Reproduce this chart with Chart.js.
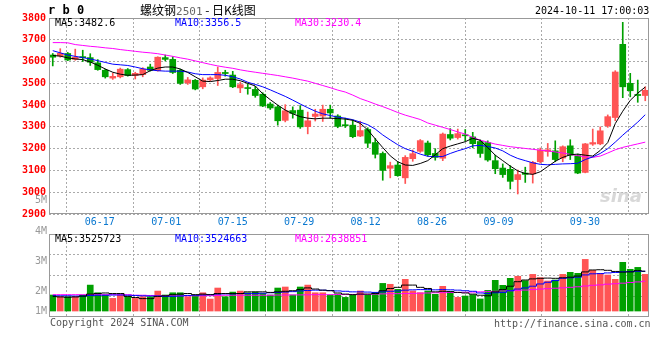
<!DOCTYPE html>
<html>
<head>
<meta charset="utf-8">
<script src="https://cdn.jsdelivr.net/npm/chart.js@4.4.1/dist/chart.umd.min.js"></script>
<style>
  body { margin: 0; background: #fff; }
  #wrap { position: relative; width: 660px; height: 360px; overflow: hidden; background: #fff; font-family: "DejaVu Sans Mono", monospace; }
  canvas { position: absolute; left: 0; }
  .t { position: absolute; white-space: pre; font-size: 10px; line-height: 12px; }
</style>
</head>
<body>
<div id="wrap">
  <canvas id="kChart" width="660" height="232" style="top:0"></canvas>
  <canvas id="volChart" width="660" height="92" style="top:226px"></canvas>

  <div class="t" style="left:48px;top:3px;font-weight:bold;font-size:12px;line-height:14px">r b 0</div>
  <div class="t" style="left:140px;top:3px;font-family:'Noto Sans CJK SC';font-size:12px;line-height:14px">螺纹钢<span style="color:#666;font-family:'DejaVu Sans Mono';font-size:11px">2501</span> - 日K线图</div>
  <div class="t" style="left:535px;top:5px">2024-10-11 17:00:03</div>

  <div class="t" style="left:55px;top:17px;color:#000">MA5:3482.6</div>
  <div class="t" style="left:175px;top:17px;color:#00f">MA10:3356.5</div>
  <div class="t" style="left:295px;top:17px;color:#f0f">MA30:3230.4</div>

  <div class="t" style="left:55px;top:233px;color:#000">MA5:3525723</div>
  <div class="t" style="left:175px;top:233px;color:#00f">MA10:3524663</div>
  <div class="t" style="left:295px;top:233px;color:#f0f">MA30:2638851</div>

  <div class="t" style="left:35px;top:194px;color:#999">5M</div>
  <div class="t" style="left:35px;top:225px;color:#999">4M</div>
  <div class="t" style="left:35px;top:255px;color:#999">3M</div>
  <div class="t" style="left:35px;top:285px;color:#999">2M</div>
  <div class="t" style="left:35px;top:305px;color:#999">1M</div>

  <div class="t" style="left:600px;top:186px;font-family:'DejaVu Sans';font-style:italic;font-weight:bold;font-size:18px;line-height:20px;color:rgba(200,200,200,0.7)">sina</div>

  <div class="t" style="left:50px;top:317px;color:#555">Copyright 2024 SINA.COM</div>
  <div class="t" style="left:494px;top:318px;color:#555">http://finance.sina.com.cn</div>
</div>

<script>
const dates = ['06-13','06-14','06-17','06-18','06-19','06-20','06-21','06-24','06-25','06-26',
  '06-27','06-28','07-01','07-02','07-03','07-04','07-05','07-08','07-09','07-10',
  '07-11','07-12','07-15','07-16','07-17','07-18','07-19','07-22','07-23','07-24',
  '07-25','07-26','07-29','07-30','07-31','08-01','08-02','08-05','08-06','08-07',
  '08-08','08-09','08-12','08-13','08-14','08-15','08-16','08-19','08-20','08-21',
  '08-22','08-23','08-26','08-27','08-28','08-29','08-30','09-02','09-03','09-04',
  '09-05','09-06','09-09','09-10','09-11','09-12','09-13','09-18','09-19','09-20',
  '09-23','09-24','09-25','09-26','09-27','09-30','10-08','10-09','10-10','10-11'];

// dates that get a label and a grid line
const labelIdx = [2, 12, 22, 32, 42, 52, 62, 75];

const openP = [3630,3626,3637,3610,3622,3618,3594,3560,3524,3530,
  3563,3536,3540,3575,3558,3618,3610,3560,3502,3514,
  3484,3516,3522,3550,3538,3479,3480,3472,3450,3405,
  3392,3330,3375,3377,3301,3348,3350,3381,3350,3310,
  3308,3258,3288,3228,3178,3110,3125,3066,3154,3188,
  3226,3178,3156,3265,3251,3263,3254,3233,3228,3145,
  3111,3105,3058,3088,3084,3140,3187,3190,3157,3213,
  3168,3091,3221,3222,3305,3343,3679,3500,3449,3444];
const highP = [3637,3659,3642,3657,3652,3636,3609,3565,3548,3570,
  3568,3551,3572,3588,3622,3630,3622,3565,3527,3518,
  3525,3530,3575,3560,3555,3505,3498,3486,3457,3412,
  3400,3402,3392,3398,3368,3381,3400,3400,3356,3340,
  3332,3326,3296,3247,3185,3138,3140,3168,3194,3242,
  3235,3200,3272,3292,3290,3288,3275,3241,3236,3170,
  3130,3122,3102,3115,3142,3203,3224,3236,3213,3241,
  3175,3224,3290,3300,3355,3558,3780,3546,3515,3484];
const lowP = [3580,3620,3604,3606,3600,3582,3560,3524,3518,3525,
  3533,3520,3530,3556,3556,3603,3545,3495,3495,3470,
  3475,3512,3490,3533,3480,3457,3450,3436,3393,3380,
  3308,3323,3340,3293,3268,3327,3325,3340,3296,3297,
  3250,3255,3205,3157,3055,3066,3073,3040,3142,3183,
  3165,3147,3145,3240,3244,3235,3204,3160,3142,3085,
  3068,3015,2992,3045,3042,3134,3165,3140,3140,3150,
  3085,3089,3215,3218,3298,3328,3434,3438,3413,3420];
const closeP = [3620,3638,3607,3620,3618,3597,3563,3530,3532,3565,
  3536,3546,3565,3560,3620,3610,3550,3500,3516,3474,
  3515,3525,3550,3545,3484,3494,3476,3444,3396,3387,
  3328,3374,3362,3300,3328,3359,3381,3364,3302,3305,
  3255,3283,3225,3174,3100,3122,3076,3160,3177,3237,
  3172,3160,3267,3248,3269,3259,3223,3178,3148,3108,
  3081,3050,3081,3082,3137,3194,3195,3150,3209,3170,
  3088,3222,3228,3282,3347,3552,3484,3466,3444,3468];

const ma5 = [3628,3625,3617,3612,3609,3598,3583,3566,3551,3542,
  3537,3538,3540,3558,3570,3575,3575,3566,3550,3530,
  3510,3508,3513,3519,3519,3512,3500,3488,3452,3425,
  3400,3377,3360,3347,3340,3337,3340,3340,3338,3336,
  3330,3316,3286,3245,3205,3167,3140,3125,3123,3132,
  3145,3172,3200,3212,3222,3232,3248,3238,3205,3170,
  3145,3120,3098,3086,3082,3094,3118,3142,3160,3172,
  3175,3170,3166,3192,3228,3315,3372,3422,3455,3483];
const ma10 = [3650,3640,3630,3624,3618,3612,3604,3596,3588,3585,
  3582,3575,3567,3562,3558,3556,3556,3556,3552,3544,
  3540,3540,3540,3537,3530,3520,3505,3495,3484,3470,
  3455,3440,3423,3405,3388,3372,3360,3352,3345,3340,
  3333,3322,3310,3290,3263,3240,3218,3200,3188,3175,
  3165,3163,3164,3178,3190,3200,3213,3215,3210,3203,
  3190,3170,3155,3145,3135,3128,3126,3128,3130,3131,
  3133,3150,3162,3178,3200,3230,3262,3292,3322,3356];
const ma30 = [3687,3687,3686,3678,3674,3670,3667,3663,3660,3655,
  3651,3647,3643,3640,3636,3630,3624,3617,3611,3603,
  3595,3587,3580,3574,3569,3562,3556,3551,3546,3541,
  3536,3530,3524,3517,3510,3500,3490,3480,3469,3460,
  3446,3430,3418,3405,3393,3380,3366,3354,3344,3334,
  3318,3308,3298,3288,3277,3267,3252,3239,3230,3221,
  3215,3209,3205,3201,3197,3193,3190,3185,3180,3174,
  3168,3162,3160,3166,3180,3195,3206,3214,3222,3230];

// volume, millions
const volume = [1.42,1.27,1.27,1.27,1.42,2.30,1.62,1.42,1.12,1.42,
  1.27,1.12,1.27,1.27,1.77,1.42,1.62,1.62,1.27,1.35,
  1.62,1.06,2.04,1.27,1.68,1.77,1.62,1.68,1.56,1.42,
  2.04,2.13,1.42,2.13,2.30,1.62,1.62,1.42,1.50,1.21,
  1.42,1.78,1.42,1.66,2.45,2.37,1.92,2.81,1.78,1.63,
  1.78,1.48,2.19,1.72,1.21,1.33,1.45,1.07,1.83,2.72,
  2.28,2.90,3.08,2.69,3.25,2.96,2.66,2.75,3.25,3.43,
  3.34,4.58,3.61,3.34,3.19,2.81,4.32,3.70,3.87,3.25];
const volMa5 = [1.30,1.25,1.22,1.25,1.32,1.50,1.55,1.60,1.55,1.55,
  1.30,1.20,1.10,1.10,1.30,1.35,1.45,1.50,1.55,1.45,
  1.50,1.45,1.55,1.55,1.55,1.55,1.70,1.70,1.70,1.65,
  1.70,1.75,1.80,1.90,2.05,1.95,1.85,1.80,1.60,1.50,
  1.45,1.50,1.50,1.55,1.80,2.00,2.10,2.30,2.30,2.10,
  2.00,1.70,1.75,1.72,1.65,1.60,1.50,1.40,1.35,1.70,
  1.90,2.20,2.60,2.75,2.85,2.90,2.92,2.90,2.95,3.00,
  3.10,3.47,3.64,3.66,3.61,3.51,3.45,3.47,3.58,3.53];
const volMa10 = [1.35,1.35,1.35,1.33,1.33,1.38,1.40,1.40,1.42,1.42,
  1.40,1.38,1.35,1.33,1.33,1.30,1.30,1.33,1.38,1.40,
  1.42,1.45,1.50,1.52,1.52,1.55,1.55,1.55,1.58,1.62,
  1.65,1.68,1.72,1.78,1.82,1.85,1.85,1.82,1.78,1.75,
  1.70,1.70,1.68,1.65,1.70,1.75,1.78,1.85,1.88,1.90,
  1.90,1.88,1.90,1.88,1.85,1.80,1.75,1.60,1.55,1.62,
  1.65,1.80,1.95,2.05,2.20,2.40,2.55,2.70,2.90,2.95,
  3.00,3.20,3.30,3.32,3.38,3.42,3.48,3.50,3.52,3.52];
const volMa30 = [1.45,1.45,1.45,1.45,1.45,1.45,1.45,1.45,1.45,1.45,
  1.45,1.40,1.40,1.38,1.36,1.35,1.35,1.35,1.35,1.35,
  1.35,1.36,1.38,1.40,1.40,1.40,1.40,1.40,1.40,1.40,
  1.42,1.42,1.43,1.43,1.44,1.45,1.45,1.45,1.46,1.46,
  1.47,1.48,1.48,1.50,1.52,1.54,1.54,1.55,1.56,1.58,
  1.60,1.62,1.63,1.64,1.65,1.66,1.68,1.70,1.72,1.75,
  1.78,1.80,1.83,1.86,1.90,1.95,1.98,2.02,2.06,2.10,
  2.15,2.22,2.28,2.32,2.38,2.42,2.47,2.53,2.58,2.64];

const UP = '#ff5454';
const DOWN = '#00a000';
const candleColors = closeP.map((c, i) => (c >= openP[i] ? UP : DOWN));
const mono = { family: 'DejaVu Sans Mono', size: 10 };

// gray frame round the plot area
const framePlugin = {
  id: 'frame',
  afterDraw(chart) {
    const { ctx, chartArea: a } = chart;
    ctx.save();
    ctx.strokeStyle = '#999';
    ctx.lineWidth = 1;
    ctx.strokeRect(a.left + 0.5, a.top + 0.5, a.right - a.left - 1, a.bottom - a.top - 1);
    ctx.restore();
  }
};

function dateAxis(showLabels) {
  return {
    type: 'linear',
    position: 'bottom',
    min: 0,
    max: dates.length - 1,
    afterBuildTicks: (scale) => { scale.ticks = labelIdx.map((v) => ({ value: v })); },
    afterFit: (scale) => { scale.height = showLabels ? 18 : 0; },
    grid: { color: '#aaa', lineWidth: 1, drawTicks: false },
    border: { display: false, dash: [2, 2] },
    ticks: {
      display: showLabels,
      autoSkip: false,
      maxRotation: 0,
      padding: 2,
      color: '#0a78d0',
      font: mono,
      callback: (v) => dates[v]
    }
  };
}

const lineDs = (data, color) => ({
  type: 'line', data, borderColor: color, borderWidth: 1,
  pointRadius: 0, tension: 0, fill: false
});

new Chart(document.getElementById('kChart'), {
  type: 'bar',
  data: {
    labels: dates,
    datasets: [
      lineDs(ma5, '#000'),
      lineDs(ma10, '#0000ff'),
      lineDs(ma30, '#ff00ff'),
      {
        data: openP.map((o, i) => [o, closeP[i]]),
        backgroundColor: candleColors,
        barThickness: 6, grouped: false, minBarLength: 1
      },
      {
        data: lowP.map((l, i) => [l, highP[i]]),
        backgroundColor: candleColors,
        barThickness: 1, grouped: false
      }
    ]
  },
  options: {
    responsive: false,
    animation: false,
    layout: { padding: { top: 18, right: 11, left: 0, bottom: 0 } },
    plugins: { legend: { display: false }, tooltip: { enabled: false } },
    scales: {
      x: { display: false, offset: true },
      xd: dateAxis(true),
      y: {
        min: 2900, max: 3800,
        afterFit: (scale) => { scale.width = 49; },
        grid: { color: '#aaa', drawTicks: false },
        border: { display: false, dash: [2, 2] },
        ticks: {
          stepSize: 100, padding: 3, color: '#f00',
          font: { family: 'DejaVu Sans Mono', size: 10, weight: 'bold' },
          callback: (v) => String(v)
        }
      }
    }
  },
  plugins: [framePlugin]
});

const stepDs = (data, color) => ({
  type: 'line', data, borderColor: color, borderWidth: 1,
  pointRadius: 0, stepped: 'middle', fill: false
});

new Chart(document.getElementById('volChart'), {
  type: 'bar',
  data: {
    labels: dates,
    datasets: [
      stepDs(volMa5, '#000'),
      stepDs(volMa10, '#0000ff'),
      stepDs(volMa30, '#ff00ff'),
      { data: volume, backgroundColor: candleColors, barThickness: 6 }
    ]
  },
  options: {
    responsive: false,
    animation: false,
    layout: { padding: { top: 8, right: 11, left: 0, bottom: 1 } },
    plugins: { legend: { display: false }, tooltip: { enabled: false } },
    scales: {
      x: { display: false, offset: true },
      xd: dateAxis(false),
      y: {
        min: -0.53, max: 6.83,
        afterFit: (scale) => { scale.width = 49; },
        afterBuildTicks: (scale) => {
          const s = (scale.max - scale.min) / 4;
          scale.ticks = [1, 2, 3].map((k) => ({ value: scale.min + k * s }));
        },
        grid: { color: '#aaa', drawTicks: false },
        border: { display: false, dash: [2, 2] },
        ticks: { display: false }
      }
    }
  },
  plugins: [framePlugin]
});
</script>
</body>
</html>
